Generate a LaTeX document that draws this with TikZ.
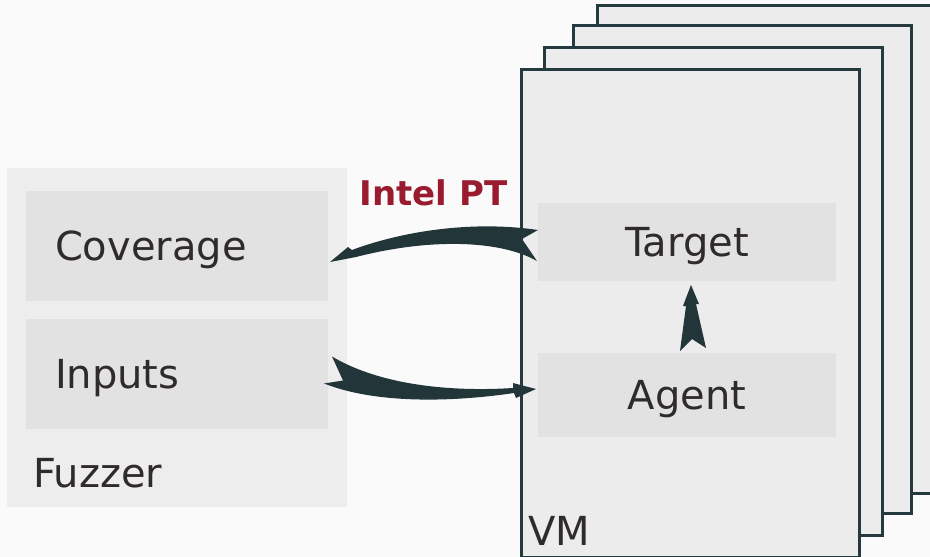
\documentclass[tikz,border=0pt]{standalone}
\usepackage{fontspec}
\setmainfont{DejaVu Sans}
\usetikzlibrary{positioning}

\definecolor{paper}{HTML}{FAFAFA}
\definecolor{fuzzfill}{HTML}{EDEDED}
\definecolor{partfill}{HTML}{E2E2E2}
\definecolor{vmfill}{HTML}{ECECEC}
\definecolor{vmedge}{HTML}{253A3E}
\definecolor{ink}{HTML}{302B2B}
\definecolor{ptred}{HTML}{9A1B2E}
\definecolor{swooshc}{HTML}{22363A}

\begin{document}
\begin{tikzpicture}[
x=1pt, y=-1pt,
node distance = 18pt and 0pt,
every node/.style={outer sep=0pt},
group/.style={fill=fuzzfill, inner sep=0pt},
part/.style={fill=partfill, inner xsep=29pt, inner ysep=0pt, text width=244pt, align=left, minimum height=110pt, text height=29pt, text depth=1pt, text=ink, font=\fontsize{40}{46}\selectfont},
vmbox/.style={fill=vmfill, draw=vmedge, line width=3pt, minimum width=338pt, minimum height=488pt, inner sep=0pt},
task/.style={fill=partfill, minimum width=298pt, minimum height=78pt, inner sep=0pt, text height=29pt, text depth=1pt, text=ink, font=\fontsize{40}{46}\selectfont},
caption/.style={text=ink, inner sep=0pt, font=\fontsize{40}{46}\selectfont},
ptlabel/.style={text=ptred, inner sep=0pt, font=\fontsize{34}{40}\selectfont\bfseries},
swoosh/.style={fill=swooshc, draw=none}]

\clip (0,0) rectangle (930,557);
\fill[paper] (0,0) rectangle (930,557);

% fuzzer side
\node[group, minimum width=340pt, minimum height=339pt] (fuzzer) at (177,337.5) {};
\node[part] (coverage) at (177,246) {Coverage};
\node[part] (inputs) [below = of coverage] {Inputs};
\node[caption, anchor=base west] (fuzzerlabel) at (33,487) {Fuzzer};

% stack of vms
\foreach \i/\cx/\cy in {4/766/249, 3/742/269, 2/713.5/291, 1/690/313}
  \node[vmbox] (vm\i) at (\cx,\cy) {};
\node[caption, anchor=base west] (vmlabel) at (528,545) {VM};

\node[task] (target) at (687,242) {Target};
\node[task, minimum height=84pt] (agent) [below = 72pt of target] {Agent};

\node[ptlabel, anchor=base] (pt) at (433.5,205) {Intel PT};

% target -> coverage
\fill[swoosh] ([shift={(2,16)}]coverage.east) -- ([shift={(20,1)}]coverage.east)
  -- ([shift={(24,4)}]coverage.east)
  .. controls ([shift={(72,-14)}]coverage.east) and ([shift={(-68,-22)}]target.west) .. ([shift={(0,-12)}]target.west)
  -- ([shift={(-16,-3)}]target.west) -- ([shift={(-1,19)}]target.west)
  .. controls ([shift={(-38,-2)}]target.west) and ([shift={(102,-8)}]coverage.east) .. ([shift={(28,11)}]coverage.east)
  -- cycle;

% inputs -> agent
\fill[swoosh] ([shift={(-2,-6)}]agent.west) -- ([shift={(-25,-12)}]agent.west)
  -- ([shift={(-25,-7)}]agent.west)
  .. controls ([shift={(-88,-3)}]agent.west) and ([shift={(52,11)}]inputs.east) .. ([shift={(4,-17.5)}]inputs.east)
  -- ([shift={(15,6.5)}]inputs.east) -- ([shift={(-4,9.5)}]inputs.east)
  .. controls ([shift={(52,31.5)}]inputs.east) and ([shift={(-78,6)}]agent.west) .. ([shift={(-24,-2)}]agent.west)
  -- ([shift={(-22,3)}]agent.west)
  -- cycle;

% agent -> target
\fill[swoosh] ([shift={(4,4)}]target.south) -- ([shift={(12,23)}]target.south)
  -- ([shift={(9,23)}]target.south) -- ([shift={(19,-5)}]agent.north)
  -- ([shift={(5,-14)}]agent.north) -- ([shift={(-7,-2)}]agent.north)
  -- ([shift={(-1,25)}]target.south) -- ([shift={(-4,25)}]target.south)
  -- cycle;
\end{tikzpicture}
\end{document}
